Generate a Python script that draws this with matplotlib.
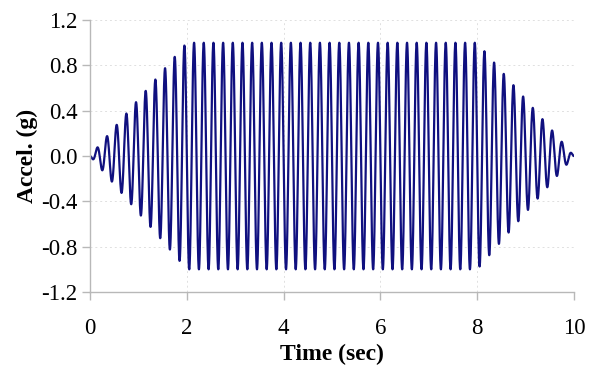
import numpy as np
import matplotlib
matplotlib.use("Agg")
import matplotlib.pyplot as plt

# Signal description
freq_hz = 5.0                      # 0.2 s between peaks
envelope_t = [0.0, 2.0, 8.0, 10.0]  # ramp-up / plateau / ramp-down
envelope_a = [0.0, 1.0, 1.0, 0.0]
first_peak_t = 0.15
duration = 10.0

x_ticks = [0, 2, 4, 6, 8, 10]
y_ticks = [-1.2, -0.8, -0.4, 0.0, 0.4, 0.8, 1.2]

t = np.linspace(0, duration, 6001)
env = np.interp(t, envelope_t, envelope_a)
acc = env * np.cos(2 * np.pi * freq_hz * (t - first_peak_t))

plt.rcParams['font.family'] = ['Liberation Serif', 'DejaVu Serif']

fig = plt.figure(figsize=(5.89, 3.65), dpi=100)
ax = fig.add_axes([0.1528, 0.2, 0.8217, 0.745])
ax.plot(t, acc, color='#10107f', lw=1.6)

ax.set_xlim(0, 10)
ax.set_ylim(-1.2, 1.2)
ax.set_xticks(x_ticks)
ax.set_yticks(y_ticks)
ax.set_xticklabels([str(v) for v in x_ticks])
ax.set_yticklabels([f"{v:.1f}" for v in y_ticks])
ax.grid(True, color='#e0e0e0', ls=(0, (2, 3)), lw=0.7)
for s in ['top', 'right']:
    ax.spines[s].set_visible(False)
for s in ['left', 'bottom']:
    ax.spines[s].set_color('#b8b8b8')
    ax.spines[s].set_linewidth(1.0)
ax.tick_params(axis='both', colors='#b8b8b8', labelcolor='black',
               labelsize=16.5, length=6, width=1.0, direction='out')
ax.tick_params(axis='x', pad=13)
ax.tick_params(axis='y', pad=3)
ax.set_xlabel('Time (sec)', fontsize=17, fontweight='bold', labelpad=3)
ax.set_ylabel('Accel. (g)', fontsize=17, fontweight='bold', labelpad=2)

fig.savefig('out.png', dpi=100)
